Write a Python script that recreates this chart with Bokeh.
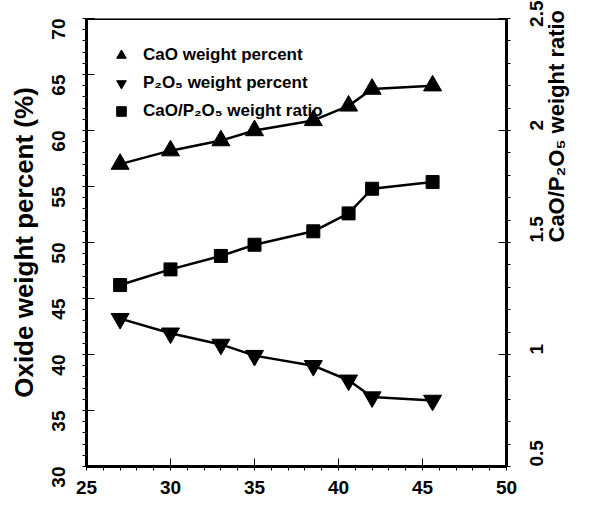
import math
from bokeh.plotting import figure
from bokeh.models import Range1d, LinearAxis, SingleIntervalTicker, Legend, LegendItem, BoxAnnotation
from bokeh.embed import file_html
from bokeh.resources import INLINE

# Data
x_vals = [27.0, 30.0, 33.0, 35.0, 38.5, 40.6, 42.0, 45.6]
cao = [57.0, 58.2, 59.1, 60.0, 60.9, 62.2, 63.7, 64.0]
p2o5 = [43.2, 41.9, 40.9, 39.9, 39.0, 37.7, 36.2, 35.9]
ratio = [1.31, 1.38, 1.44, 1.49, 1.55, 1.63, 1.74, 1.77]

X_MIN, X_MAX = 25, 50
Y_MIN, Y_MAX = 30, 70
R_MIN, R_MAX = 0.5, 2.5

FONT = "Liberation Sans"

p = figure(width=584, height=496,
           x_range=Range1d(X_MIN, X_MAX), y_range=Range1d(Y_MIN, Y_MAX),
           output_backend="svg", toolbar_location=None,
           min_border_left=86, min_border_top=18, min_border_right=76, min_border_bottom=30)
p.extra_y_ranges = {"ratio": Range1d(R_MIN, R_MAX)}
p.grid.visible = False

def style_axis(ax, label_size):
    ax.axis_line_width = 3
    ax.major_tick_in = 8
    ax.major_tick_out = 0
    ax.major_label_text_font = FONT
    ax.major_label_text_font_style = "bold"
    ax.major_label_text_font_size = "19px"
    ax.major_label_text_color = "#000000"
    ax.axis_label_text_font = FONT
    ax.axis_label_text_font_style = "bold"
    ax.axis_label_text_font_size = label_size
    ax.axis_label_text_color = "#000000"

xa = p.xaxis[0]
xa.ticker = SingleIntervalTicker(interval=5, num_minor_ticks=5)
style_axis(xa, "20px")
xa.major_label_standoff = 10

ya = p.yaxis[0]
ya.ticker = SingleIntervalTicker(interval=5, num_minor_ticks=5)
style_axis(ya, "26px")
ya.major_label_orientation = math.pi / 2
ya.major_label_standoff = 24
ya.axis_label = "Oxide weight percent (%)"
ya.axis_label_standoff = 4

ra = LinearAxis(y_range_name="ratio", ticker=SingleIntervalTicker(interval=0.5, num_minor_ticks=5))
style_axis(ra, "22px")
ra.major_label_orientation = math.pi / 2
ra.major_label_standoff = 26
ra.axis_label = "CaO/P\u2082O\u2085 weight ratio"
ra.axis_label_standoff = 4
ra.axis_label_orientation = math.pi / 2
ra.axis_label_text_align = "center"
p.add_layout(ra, "right")

frame_box = BoxAnnotation(left=X_MIN, right=X_MAX, bottom=Y_MIN, top=Y_MAX,
                          fill_alpha=0, line_color="black", line_width=3, line_alpha=1)
p.add_layout(frame_box)

lw = 2.5
p.line(x_vals, cao, line_color="black", line_width=lw)
r1 = p.scatter(x_vals, cao, marker="triangle", size=18, color="black")
p.line(x_vals, p2o5, line_color="black", line_width=lw)
r2 = p.scatter(x_vals, p2o5, marker="inverted_triangle", size=18, color="black")
p.line(x_vals, ratio, line_color="black", line_width=lw, y_range_name="ratio")
r3 = p.scatter(x_vals, ratio, marker="square", size=13, color="black", y_range_name="ratio")

legend = Legend(items=[
    LegendItem(label="CaO weight percent", renderers=[r1]),
    LegendItem(label="P\u2082O\u2085 weight percent", renderers=[r2]),
    LegendItem(label="CaO/P\u2082O\u2085 weight ratio", renderers=[r3]),
], location="top_left")
legend.border_line_alpha = 0
legend.background_fill_alpha = 0
legend.label_text_font = FONT
legend.label_text_font_style = "bold"
legend.label_text_font_size = "17px"
legend.label_text_color = "#000000"
legend.label_height = 28
legend.glyph_height = 28
legend.glyph_width = 24
legend.spacing = 0
legend.margin = 0
legend.padding = 23
legend.label_standoff = 10
p.add_layout(legend, "center")

open("out.html", "w").write(file_html(p, INLINE))
